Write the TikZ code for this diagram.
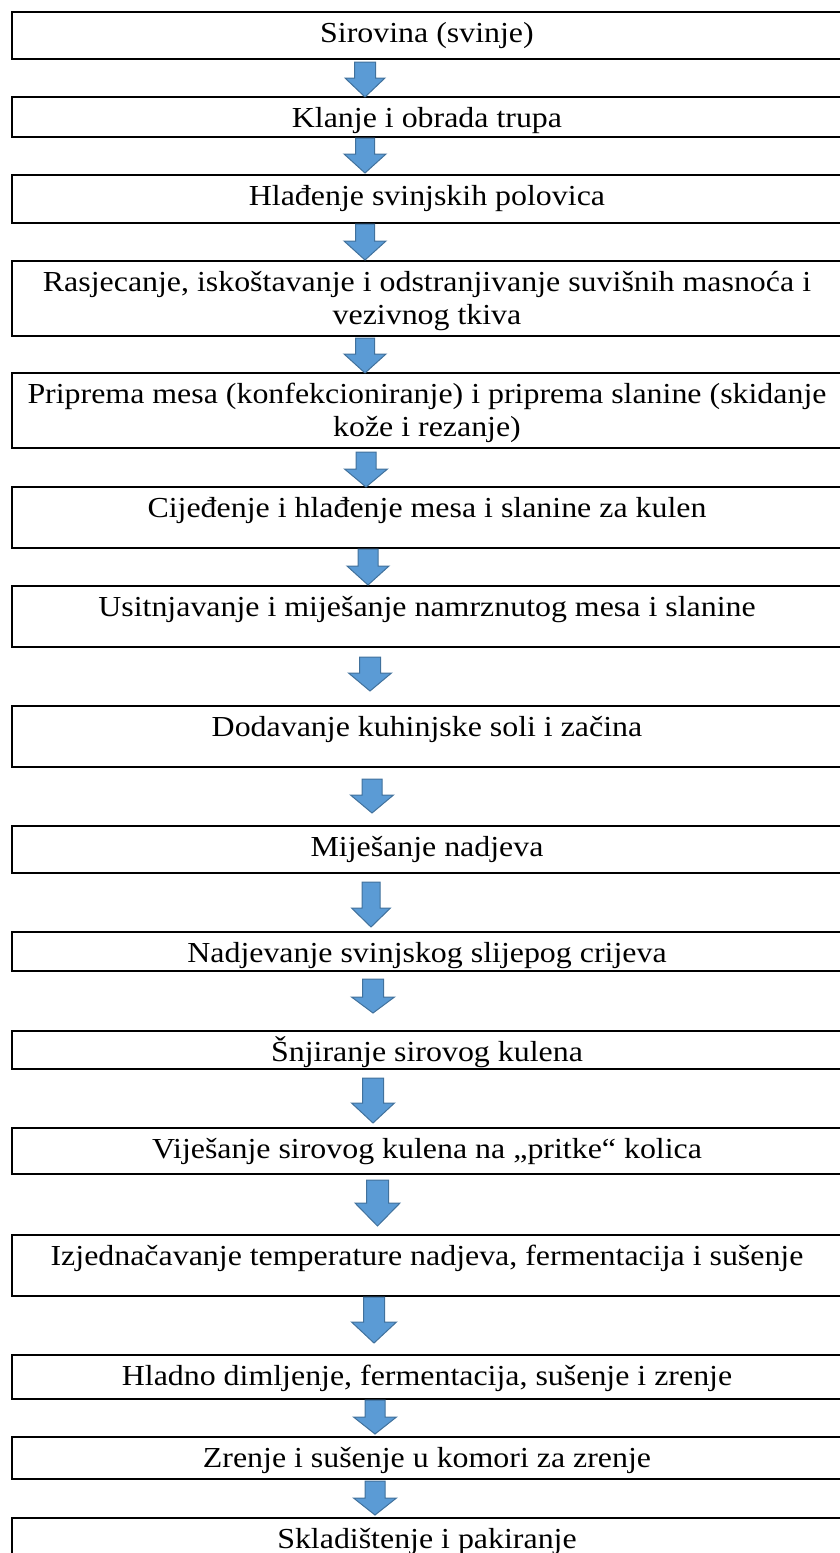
\documentclass[tikz,border=0pt]{standalone}
\usepackage{fontspec}
\setmainfont{Liberation Serif}[FakeStretch=1.10]
\definecolor{arrowfill}{HTML}{5B9BD5}
\definecolor{arrowline}{HTML}{41719C}
\newcommand\flowbox[4]{%
  \node[box, minimum height={(#3-#2)*0.5pt}] (#1) at (12,#2) {};
  \node[lbl] (#1t) at (427,#2+30) {\begin{tabular}[t]{@{}c@{}}#4\end{tabular}};
}
\newcommand\flowarrow[7]{%
  \coordinate (#1) at (#2,#3);
  \draw[blockarrow] (#2-#6,#3) -- (#2+#6,#3) -- (#2+#6,#4) -- (#2+#7,#4) -- (#2,#5) -- (#2-#7,#4) -- (#2-#6,#4) -- cycle;
}
\begin{document}
\begin{tikzpicture}[x=0.5pt,y=-0.5pt,
  box/.style={draw=black, line width=0.85pt, rectangle, inner sep=0pt, outer sep=0pt, anchor=north west, minimum width=415pt},
  lbl/.style={anchor=base, inner sep=0pt, font=\fontsize{14.5}{16.5}\selectfont},
  blockarrow/.style={fill=arrowfill, draw=arrowline, line width=0.5pt, line join=miter}]
\useasboundingbox (0,0) rectangle (840,1553);
\flowbox{b1}{12}{59}{Sirovina (svinje)}
\flowbox{b2}{97}{137}{Klanje i obrada trupa}
\flowbox{b3}{175}{223}{Hlađenje svinjskih polovica}
\flowbox{b4}{261}{336}{Rasjecanje, iskoštavanje i odstranjivanje suvišnih masnoća i\\vezivnog tkiva}
\flowbox{b5}{373}{448}{Priprema mesa (konfekcioniranje) i priprema slanine (skidanje\\kože i rezanje)}
\flowbox{b6}{487}{548}{Cijeđenje i hlađenje mesa i slanine za kulen}
\flowbox{b7}{586}{647}{Usitnjavanje i miješanje namrznutog mesa i slanine}
\flowbox{b8}{706}{767}{Dodavanje kuhinjske soli i začina}
\flowbox{b9}{826}{873}{Miješanje nadjeva}
\flowbox{b10}{932}{971}{Nadjevanje svinjskog slijepog crijeva}
\flowbox{b11}{1031}{1069}{Šnjiranje sirovog kulena}
\flowbox{b12}{1128}{1174}{Viješanje sirovog kulena na „pritke“ kolica}
\flowbox{b13}{1235}{1296}{Izjednačavanje temperature nadjeva, fermentacija i sušenje}
\flowbox{b14}{1355}{1399}{Hladno dimljenje, fermentacija, sušenje i zrenje}
\flowbox{b15}{1437}{1479}{Zrenje i sušenje u komori za zrenje}
\flowbox{b16}{1518}{1565}{Skladištenje i pakiranje}
\flowarrow{a1}{365}{62}{78}{97}{10.5}{20}
\flowarrow{a2}{365}{138}{154}{173}{9.5}{21}
\flowarrow{a3}{365}{224}{241}{260}{9.5}{21}
\flowarrow{a4}{365}{338}{354}{373}{9.5}{21}
\flowarrow{a5}{366}{452}{469}{487}{10}{21.5}
\flowarrow{a6}{368}{549}{566}{585}{10}{21}
\flowarrow{a7}{370}{657}{673}{691}{10.5}{21.5}
\flowarrow{a8}{372}{779}{795}{813}{10}{21.5}
\flowarrow{a9}{371}{882}{908}{927}{9}{19.5}
\flowarrow{a10}{373}{979}{997}{1013}{10.5}{21.5}
\flowarrow{a11}{373}{1078}{1103}{1123}{10.5}{21.5}
\flowarrow{a12}{377.5}{1180}{1203}{1226}{11}{22.5}
\flowarrow{a13}{374}{1297}{1322}{1343}{10.5}{22.5}
\flowarrow{a14}{375}{1400}{1417}{1434}{10}{21.5}
\flowarrow{a15}{375}{1481}{1498}{1515}{10}{21.5}
\end{tikzpicture}
\end{document}
